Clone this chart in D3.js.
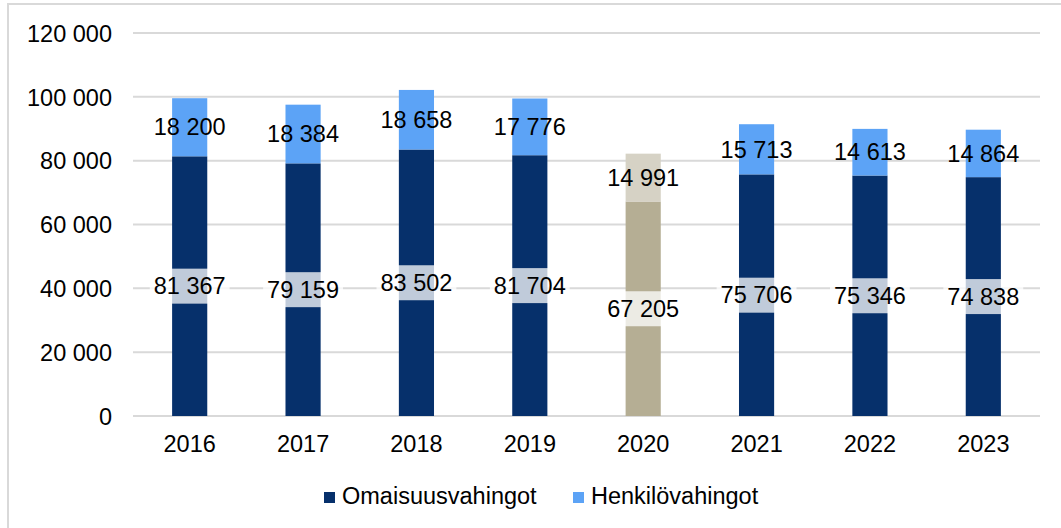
<!DOCTYPE html>
<html><head><meta charset="utf-8">
<script src="https://cdn.jsdelivr.net/npm/d3@7"></script>
<style>html,body{margin:0;padding:0;background:#fff;} svg{display:block;font-family:"Liberation Sans",Arial,sans-serif;}</style>
</head><body>
<svg id="c" width="1061" height="528"></svg>
<script>
const years = ["2016","2017","2018","2019","2020","2021","2022","2023"];
const omaisuus = [81367, 79159, 83502, 81704, 67205, 75706, 75346, 74838];
const henkilo = [18200, 18384, 18658, 17776, 14991, 15713, 14613, 14864];
const seriesNames = ["Omaisuusvahingot", "Henkilövahingot"];
const yTicks = [0, 20000, 40000, 60000, 80000, 100000, 120000];
const highlightYear = "2020";

const colDark = "#06306b", colLight = "#5ca3f6";
const colDarkHi = "#b5ae94", colLightHi = "#d6d2c5";
const FS = 23.5;

const svg = d3.select("#c");
const loc = d3.formatLocale({decimal:",", thousands:"\u00a0", grouping:[3], currency:["","€"]});
const fmt = loc.format(",d");

svg.append("rect").attr("x",8).attr("y",4).attr("width",1100).attr("height",600)
  .attr("fill","none").attr("stroke","#d9d9d9").attr("stroke-width",2);

const x = d3.scaleBand().domain(years).range([133,1040]).paddingInner(0.69).paddingOuter(0.345);
const y = d3.scaleLinear().domain([0,120000]).range([416,33]);

// gridlines
svg.append("g").selectAll("line").data(yTicks).join("line")
  .attr("x1",133).attr("x2",1040).attr("y1",d=>y(d)).attr("y2",d=>y(d))
  .attr("stroke","#d9d9d9").attr("stroke-width",2);

// y axis labels
const yAxis = d3.axisLeft(y).tickValues(yTicks).tickFormat(fmt).tickSize(0).tickPadding(0);
const gy = svg.append("g").attr("transform","translate(112,0)").call(yAxis);
gy.select(".domain").remove();
gy.selectAll("text").attr("font-size",FS).attr("fill","#000").attr("font-family","Liberation Sans, Arial, sans-serif").attr("dy","0.35em");

// x axis labels
const xAxis = d3.axisBottom(x).tickSize(0).tickPadding(0);
const gx = svg.append("g").attr("transform","translate(0,435)").call(xAxis);
gx.select(".domain").remove();
gx.selectAll("text").attr("font-size",FS).attr("fill","#000").attr("font-family","Liberation Sans, Arial, sans-serif").attr("dy","0.71em");

const data = years.map((yr,i)=>({yr, a:omaisuus[i], b:henkilo[i]}));

const bars = svg.append("g");
bars.selectAll("rect.a").data(data).join("rect").attr("class","a")
  .attr("x",d=>x(d.yr)).attr("width",x.bandwidth())
  .attr("y",d=>y(d.a)).attr("height",d=>y(0)-y(d.a))
  .attr("fill",d=>d.yr===highlightYear?colDarkHi:colDark);
bars.selectAll("rect.b").data(data).join("rect").attr("class","b")
  .attr("x",d=>x(d.yr)).attr("width",x.bandwidth())
  .attr("y",d=>y(d.a+d.b)).attr("height",d=>y(d.a)-y(d.a+d.b))
  .attr("fill",d=>d.yr===highlightYear?colLightHi:colLight);

// labels
const lab = svg.append("g").attr("font-size",FS).attr("fill","#000");
data.forEach(d=>{
  const cx = x(d.yr)+x.bandwidth()/2;
  const ya = y(d.a/2);
  const t = lab.append("text").attr("x",cx).attr("y",ya).attr("dy","0.35em")
    .attr("text-anchor","middle").text(fmt(d.a));
  const w = t.node().getComputedTextLength();
  lab.insert("rect","text").attr("x",cx-w/2-4).attr("y",ya-17.5).attr("width",w+8).attr("height",35)
    .attr("fill","#fff").attr("fill-opacity",0.75);
  lab.append("text").attr("x",cx).attr("y",y(d.a+d.b/2)).attr("dy","0.35em")
    .attr("text-anchor","middle").text(fmt(d.b));
});

// legend
const leg = svg.append("g");
const legItems = [{name:seriesNames[0],col:colDark,x:324},{name:seriesNames[1],col:colLight,x:573}];
legItems.forEach(it=>{
  leg.append("rect").attr("x",it.x).attr("y",492).attr("width",11).attr("height",11).attr("fill",it.col);
  leg.append("text").attr("x",it.x+18).attr("y",503.5).attr("font-size",FS).attr("fill","#000").text(it.name);
});
</script>
</body></html>
